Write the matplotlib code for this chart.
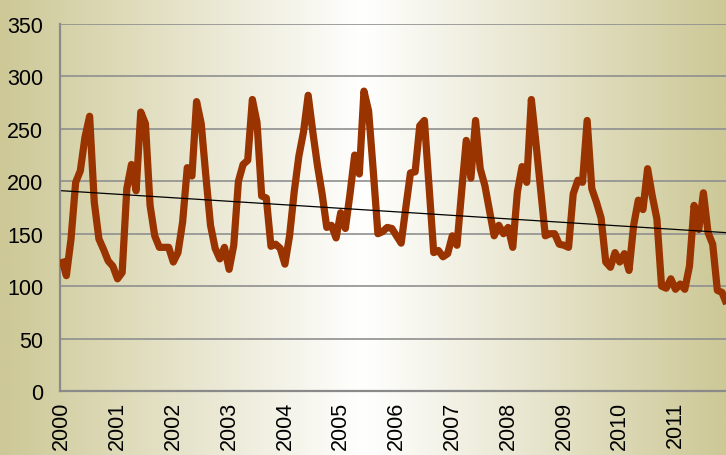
import numpy as np
import matplotlib
matplotlib.use("Agg")
import matplotlib.pyplot as plt
from matplotlib.colors import LinearSegmentedColormap

# Monthly values, January 2000 through December 2011
values_2000 = [126, 110, 145, 199, 210, 242, 262, 180, 145, 135, 124, 119]
values_2001 = [107, 113, 193, 216, 191, 266, 255, 177, 148, 137, 137, 137]
values_2002 = [123, 132, 161, 213, 205, 276, 255, 205, 158, 136, 126, 137]
values_2003 = [116, 139, 200, 216, 220, 278, 256, 186, 184, 138, 140, 136]
values_2004 = [121, 148, 190, 224, 247, 282, 247, 215, 188, 156, 158, 146]
values_2005 = [170, 155, 188, 225, 207, 286, 267, 210, 150, 152, 156, 155]
values_2006 = [148, 141, 175, 208, 209, 253, 258, 195, 132, 134, 128, 131]
values_2007 = [148, 139, 190, 239, 203, 258, 212, 196, 172, 148, 158, 150]
values_2008 = [156, 137, 190, 214, 199, 278, 236, 192, 148, 150, 150, 140]
values_2009 = [139, 137, 188, 201, 199, 258, 193, 180, 165, 123, 118, 132]
values_2010 = [123, 131, 115, 158, 182, 173, 212, 186, 164, 100, 98, 107]
values_2011 = [97, 102, 97, 119, 177, 154, 189, 151, 140, 96, 94, 83]

# Linear trend line: value at the first and last month
trend_start = 191
trend_end = 151

years = [str(y) for y in range(2000, 2012)]
series = (values_2000 + values_2001 + values_2002 + values_2003 + values_2004 +
          values_2005 + values_2006 + values_2007 + values_2008 + values_2009 +
          values_2010 + values_2011)
y_ticks = [0, 50, 100, 150, 200, 250, 300, 350]

W, H, DPI = 726, 456, 100
fig = plt.figure(figsize=(W / DPI, H / DPI), dpi=DPI)

# Khaki-to-white-to-khaki horizontal background
bg_ax = fig.add_axes([0, 0, 1, 1], zorder=0)
bg_ax.set_axis_off()
edge = np.array([205, 200, 150]) / 255.0
cmap = LinearSegmentedColormap.from_list(
    "parchment", [(0.0, edge), (0.5, (1, 1, 1)), (1.0, edge)])
grad = np.linspace(0, 1, 512)[None, :]
bg_ax.imshow(grad, cmap=cmap, aspect="auto", extent=[0, 1, 0, 1])
bg_ax.set_xlim(0, 1)
bg_ax.set_ylim(0, 1)

ax = fig.add_axes([60 / W, (H - 392) / H, (W - 60) / W, (392 - 25) / H], zorder=1)
ax.patch.set_alpha(0)

x = np.arange(len(series))
y = np.array(series, dtype=float)

ax.plot(x, y, color="#993300", lw=5.2, solid_joinstyle="round",
        solid_capstyle="butt", zorder=3)

ax.plot([x[0], x[-1]], [trend_start, trend_end], color="black", lw=0.9, zorder=4)

ax.set_ylim(0, 350)
ax.set_xlim(-0.37, 142.86)
ax.set_yticks(y_ticks)
ax.set_yticklabels([str(v) for v in y_ticks])
ax.set_xticks(np.arange(0, 144, 12))
ax.set_xticklabels(years, rotation=90, va="top", ha="center")

ax.grid(axis="y", color="#8f8f8f", lw=1.2, zorder=1)
ax.grid(axis="x", visible=False)
ax.set_axisbelow(True)

for side in ("top", "right"):
    ax.spines[side].set_visible(False)
for side in ("left", "bottom"):
    ax.spines[side].set_color("#8a8a8a")
    ax.spines[side].set_linewidth(1.6)

ax.tick_params(axis="y", length=0, pad=12, labelsize=15.5, labelcolor="black")
ax.tick_params(axis="x", length=0, pad=7, labelsize=15.5, labelcolor="black")
for lab in ax.get_xticklabels() + ax.get_yticklabels():
    lab.set_fontfamily(["Liberation Sans", "DejaVu Sans"])

fig.savefig("out.png", dpi=DPI)
